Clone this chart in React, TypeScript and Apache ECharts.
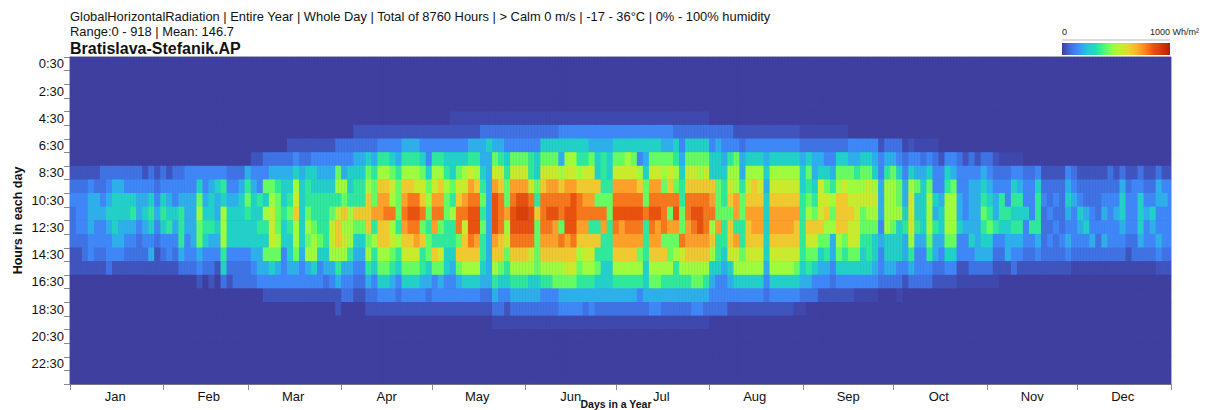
import React, { useEffect, useRef } from "react";
import * as echarts from "echarts";

const MONTHS = ["Jan", "Feb", "Mar", "Apr", "May", "Jun", "Jul", "Aug", "Sep", "Oct", "Nov", "Dec"];
const MONTH_START_DAYS = [0, 31, 59, 90, 120, 151, 181, 212, 243, 273, 304, 334];
const MONTH_LABEL_DAYS = [15, 46, 74, 105, 135, 166, 196, 227, 258, 288, 319, 349];
const HOURS = Array.from({ length: 24 }, (_, h) => `${h}:30`);
const FIRST_TABLE_HOUR = 4;

// Level -> Wh/m²
const LEVEL_KEYS = "0x123456789abcde";
const LEVEL_VALUES = [0, 15, 35, 85, 135, 200, 270, 340, 420, 490, 560, 640, 720, 790, 850, 900];

// Each string is one two-day column; each character one hour, 4:30 to 19:30.
const COLS_A = [
  "0000123222110000","0000123332110000","0000123332210000","0000134443310000","0000124433210000","0000223433210000",
  "0000234543320000","0000245554310000","0000245544310000","0000235543210000","0000235643210000","0000234432210000",
  "0000134543210000","0000235653410000","0000123432110000","0000235653210000","0000134563310000","0000233543210000",
  "0000234666420000","0000334443320000","0000334444320000","0000357877431000","0000334565320000","0000345564321000",
  "0000354454310000","0000365888652000","0000234555321000","0000234555322000","0000245555322000","0000467655322000",
  "0001345555432000","0001336565443000","0002375865743100","0002478999753100","0002467778743100","0002455655333100",
  "0012456765543100","0013589a88743100","0012455555433100","0012566787843100","0013556678853100","0013456667533100",
  "0013456666542100","0013456799843100","00237869aa864110","0023487a89843200","0023556888643200",
];
const COLS_B = [
  "0124566a75432100","0124566a75432100","012578aaa7864210","0124677b68653210","01368abbaa875310","01368abcaa875310",
  "0135798c89764310","0134677768653210","01468abcba975310","01468acdca975310","014689cdcb975310","013579ac7a664310",
  "0133578767754210","013689bcb6a73310","01368abc76974310","0135687766553310","x135576866543310","x13579acc7a74310",
  "x13589bc9aa85310","x1469bcddca85310","x1468acddba85310","x244567676654210","x254444444444210","x2479bdddba8642x",
  "x2469acccaa7532x","x235677b8976531x","x2379bcddca8642x","x2379bdedca8642x","x2379bdedca8642x","x23669cddc98542x",
  "x235576a7777542x","x2579acccba8632x","x2579bcdcba8632x","x2579bcdbba8732x","x3548acc7ca8743x","x3589bcddba9743x",
  "x3589bdddca9743x","x3568accba87643x","x3569abcba98642x","x3479abc6a98643x","x3455a7c6a67542x","x346667cb665542x",
  "x34556776665542x","x3579bcdcba8642x","x3579bcdbba8642x","x3589bcdcba8642x","x3579bcdcba8642x",
];
const COLS_C = [
  "x3538acdcb78632x","x354577c6665542x","x3579bcdcba8743x","x3579bcdbba8743x","x34787ccc7a8642x","x3479ac7b778642x",
  "x25687cdb786642x","x23456677c98642x","x2579accbba8642x","x2579acdcba8743x","x2578acddba8743x","x2579acccba8642x",
  "02355abc8a854320","02455777b6653320","0234566766543320","023689a7aa954310","013788bb6b985310","0124467766785310",
  "013589abaa985310","01358aabba985310","013589abba985310","0134545555543210","013589abba985310","013589abba985310",
  "013589abba985310","013589abba985310","013589abaa9753x0","0x245566666542x0","0x257678a9764200","0x244567a9753200",
  "0x245999a7543100","0x23579a87643100","0x23468784432100","0x2578aaa8753100","0x2579aaa7653100","0034789a99753100",
  "0034689999753x00","0035789776553x00","0035799876653x00","0034589875543x00","0013344434332000","0024688885542000",
  "0024788875542000","0023577855532x00",
];
const COLS_D = [
  "00x2344564431000","0013589998642000","00x3475564332000","00x2455554332000","00x3578887632000","00x2335464421000",
  "0001334554321000","0003568887531000","0003478887531000","000233445331x000","000133334331x000","000234444532x000",
  "000134444442x000","000245676542x000","000234567542x000","000123446321x000","000x236653210000","000x233654410000",
  "000x356564320000","000x346564310000","0000233533210000","0000233363210000","0000356664310000","0000123222210000",
  "0000122323210000","0000123232210000","0000122223210000","0000345434310000","00002343332x0000","00001235432x0000",
  "00001224532x0000","00001223342x0000","00001222322x0000","00001234342x0000","00002233332x0000","00001234332x0000",
  "00002455432x0000","00001233321x0000","00001333322x0000","00002355542x0000","00001234332x0000","00001235432x0000",
  "0000244334310000","0000134333210000","0000133333210000",
];
const COLUMNS = [...COLS_A, ...COLS_B, ...COLS_C, ...COLS_D];

const COLOR_RAMP = ["#3f3f9f", "#3f6fe0", "#3f8fff", "#25c4dc", "#1fdcb4", "#45f87a", "#8cff48", "#bdf42c", "#e8d530", "#fdb030", "#fb8420", "#ea5210", "#d23a04", "#b81d00"];

const DAY_CATEGORIES = Array.from({ length: 365 }, (_, d) => {
  const m = MONTH_LABEL_DAYS.indexOf(d);
  return m >= 0 ? MONTHS[m] : String(d + 1);
});

function cells() {
  const out: number[][] = [];
  for (let d = 0; d < 365; d++) {
    const col = COLUMNS[Math.floor(d / 2)] || "";
    for (let h = 0; h < 24; h++) {
      const ch = col[h - FIRST_TABLE_HOUR];
      const lvl = ch ? LEVEL_KEYS.indexOf(ch) : 0;
      out.push([d, h, LEVEL_VALUES[Math.max(lvl, 0)]]);
    }
  }
  return out;
}

const FONT = "'Liberation Sans', Arial, sans-serif";
const AXIS_GREY = "#8a8a8a";

export default function App() {
  const ref = useRef<HTMLDivElement>(null);
  useEffect(() => {
    const chart = echarts.init(ref.current!, undefined, { renderer: "svg" });
    chart.setOption({
      animation: false,
      backgroundColor: "#fff",
      textStyle: { fontFamily: FONT },
      grid: { left: 70, top: 57, width: 1101, height: 327, show: true, backgroundColor: COLOR_RAMP[0], borderColor: "#a8a8a8", borderWidth: 1, containLabel: false, outerBoundsMode: "none" },
      xAxis: {
        type: "category",
        data: DAY_CATEGORIES,
        name: "Days in a Year",
        nameLocation: "middle",
        nameGap: 14.5,
        nameMoveOverlap: false,
        nameTextStyle: { fontFamily: FONT, fontSize: 10.5, fontWeight: "bold", color: "#111", padding: [0, 9, 0, 0] },
        axisLine: { show: true, lineStyle: { color: AXIS_GREY } },
        axisTick: { show: true, length: 6, lineStyle: { color: AXIS_GREY }, interval: (i: number) => MONTH_START_DAYS.includes(i) },
        axisLabel: {
          interval: (i: number) => MONTH_LABEL_DAYS.includes(i),
          fontFamily: FONT, fontSize: 13, color: "#111", margin: 6, hideOverlap: false, padding: [0, 3, 0, 0],
        },
        splitLine: { show: false },
      },
      yAxis: {
        type: "category",
        inverse: true,
        data: HOURS,
        name: "Hours in each day",
        nameLocation: "middle",
        nameGap: 46,
        nameMoveOverlap: false,
        nameTextStyle: { fontFamily: FONT, fontSize: 12.5, fontWeight: "bold", color: "#111" },
        axisLine: { show: true, lineStyle: { color: AXIS_GREY } },
        axisTick: { show: true, length: 6, lineStyle: { color: AXIS_GREY }, interval: 0 },
        axisLabel: { interval: 1, fontFamily: FONT, fontSize: 13, color: "#111", margin: 6 },
        splitLine: { show: false },
      },
      visualMap: {
        type: "continuous",
        show: false,
        min: 0,
        max: 1000,
        dimension: 2,
        seriesIndex: 0,
        inRange: { color: COLOR_RAMP },
      },
      series: [
        {
          type: "heatmap",
          data: cells(),
          silent: true,
          progressive: 0,
          itemStyle: { borderWidth: 0, opacity: 1 },
          emphasis: { disabled: true },
        },
      ],
      graphic: [
        { type: "text", x: 70, y: 10, style: { text: "GlobalHorizontalRadiation | Entire Year | Whole Day | Total of 8760 Hours | > Calm 0 m/s | -17 - 36°C | 0% - 100% humidity", font: `12.9px ${FONT}`, fill: "#111" } },
        { type: "text", x: 70, y: 25, style: { text: "Range:0 - 918 | Mean: 146.7", font: `12.9px ${FONT}`, fill: "#111" } },
        { type: "text", x: 70, y: 40, style: { text: "Bratislava-Stefanik.AP", font: `bold 16px ${FONT}`, fill: "#111" } },
        { type: "text", x: 1062, y: 27, style: { text: "0", font: `9px ${FONT}`, fill: "#222" } },
        { type: "text", x: 1150, y: 27, style: { text: "1000 Wh/m²", font: `9px ${FONT}`, fill: "#222" } },
        { type: "line", shape: { x1: 1062, y1: 40, x2: 1170, y2: 40 }, style: { stroke: "#cfcfcf", lineWidth: 1.5 } },
        {
          type: "rect",
          shape: { x: 1062, y: 43, width: 108, height: 12 },
          style: {
            fill: new echarts.graphic.LinearGradient(0, 0, 1, 0, COLOR_RAMP.map((color, i) => ({ offset: i / (COLOR_RAMP.length - 1), color }))),
          },
        },
      ],
    });
    return () => chart.dispose();
  }, []);
  return <div ref={ref} style={{ position: "fixed", left: 0, top: 0, width: 1205, height: 410, overflow: "hidden" }} />;
}
